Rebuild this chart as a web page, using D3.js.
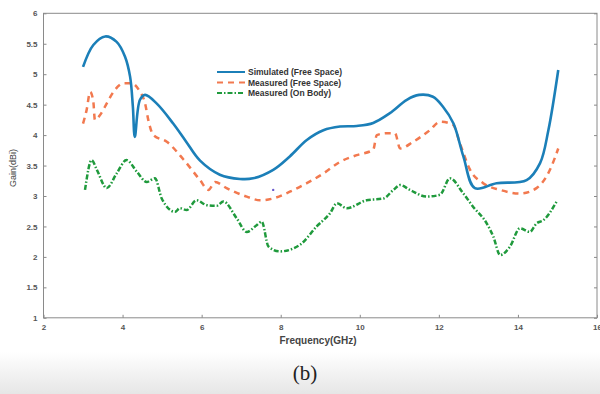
<!DOCTYPE html>
<html>
<head>
<meta charset="utf-8">
<script src="https://cdn.jsdelivr.net/npm/d3@7"></script>
<style>
  body { margin: 0; background: #fff; }
  svg { display: block; font-family: "Liberation Sans", Arial, sans-serif; }
</style>
</head>
<body>
<div id="chart"></div>
<script>
// gain vs frequency, three traces

var simFreq = [3.0, 3.26, 3.56, 3.85, 4.06, 4.19, 4.26, 4.31, 4.44, 4.57, 4.86, 5.28, 5.6, 5.96, 6.46, 6.97, 7.3, 7.81, 8.23, 8.66, 9.08, 9.5, 9.92, 10.34, 10.76, 11.19, 11.5, 11.85, 12.1, 12.37, 12.62, 12.91, 13.46, 14.22, 14.56, 14.77, 15.02];
var simGain = [5.12, 5.48, 5.62, 5.53, 5.29, 4.96, 4.47, 3.97, 4.58, 4.66, 4.52, 4.19, 3.9, 3.58, 3.35, 3.28, 3.29, 3.43, 3.65, 3.92, 4.08, 4.14, 4.15, 4.2, 4.36, 4.58, 4.66, 4.63, 4.47, 4.19, 3.65, 3.13, 3.21, 3.26, 3.54, 4.08, 5.07];

var measFreq = [3.0, 3.09, 3.18, 3.26, 3.3, 3.43, 3.6, 3.77, 4.02, 4.23, 4.44, 4.57, 4.65, 4.78, 5.12, 5.54, 5.96, 6.17, 6.34, 6.63, 7.14, 7.48, 7.81, 8.23, 8.66, 9.08, 9.5, 9.92, 10.34, 10.43, 10.68, 10.89, 11.02, 11.35, 11.77, 12.03, 12.36, 12.53, 12.79, 13.12, 13.55, 14.05, 14.47, 14.81, 15.02];
var measGain = [4.19, 4.41, 4.71, 4.55, 4.25, 4.33, 4.52, 4.71, 4.85, 4.85, 4.71, 4.52, 4.25, 4.0, 3.89, 3.6, 3.26, 3.1, 3.23, 3.13, 2.99, 2.93, 2.96, 3.07, 3.21, 3.37, 3.56, 3.67, 3.76, 4.0, 4.03, 4.03, 3.78, 3.89, 4.08, 4.22, 4.17, 3.87, 3.43, 3.21, 3.1, 3.04, 3.13, 3.43, 3.78];

var bodyFreq = [3.05, 3.22, 3.35, 3.6, 3.85, 4.1, 4.36, 4.61, 4.82, 4.99, 5.33, 5.45, 5.62, 5.87, 6.13, 6.38, 6.55, 6.89, 7.14, 7.39, 7.52, 7.69, 7.98, 8.49, 8.91, 9.25, 9.42, 9.67, 10.17, 10.6, 10.85, 11.02, 11.27, 11.69, 12.03, 12.28, 12.62, 12.87, 13.21, 13.38, 13.55, 13.8, 14.05, 14.3, 14.47, 14.64, 14.98];
var bodyGain = [3.1, 3.59, 3.43, 3.13, 3.37, 3.59, 3.4, 3.23, 3.29, 2.96, 2.74, 2.8, 2.77, 2.93, 2.85, 2.84, 2.91, 2.63, 2.41, 2.52, 2.58, 2.17, 2.09, 2.2, 2.5, 2.72, 2.88, 2.8, 2.93, 2.96, 3.1, 3.18, 3.1, 2.99, 3.02, 3.29, 3.04, 2.82, 2.55, 2.33, 2.03, 2.17, 2.47, 2.41, 2.55, 2.6, 2.91];

var xTicks = [2, 4, 6, 8, 10, 12, 14, 16];
var yTicks = [1, 1.5, 2, 2.5, 3, 3.5, 4, 4.5, 5, 5.5, 6];
var seriesNames = ["Simulated (Free Space)", "Measured (Free Space)", "Measured (On Body)"];

var W = 600, H = 394;
var m = {left: 43.5, right: 597, top: 13.3, bottom: 317.8};

var svg = d3.select("#chart").append("svg")
    .attr("width", W).attr("height", H);

// grey band at the bottom of the page
var defs = svg.append("defs");
var grad = defs.append("linearGradient").attr("id", "band")
    .attr("x1", 0).attr("y1", 0).attr("x2", 0).attr("y2", 1);
grad.append("stop").attr("offset", "0%").attr("stop-color", "#ffffff");
grad.append("stop").attr("offset", "100%").attr("stop-color", "#e6e6e6");
svg.append("rect").attr("x", 0).attr("y", 352).attr("width", W).attr("height", H - 352)
    .attr("fill", "url(#band)");

var x = d3.scaleLinear().domain([2, 16]).range([m.left, m.right]);
var y = d3.scaleLinear().domain([1, 6]).range([m.bottom, m.top]);

var axisCol = "#8a8a8a", textCol = "#555";

// box
svg.append("rect")
    .attr("x", m.left).attr("y", m.top)
    .attr("width", m.right - m.left).attr("height", m.bottom - m.top)
    .attr("fill", "none").attr("stroke", axisCol).attr("stroke-width", 1);

var xAxis = svg.append("g").attr("transform", "translate(0," + m.bottom + ")")
    .call(d3.axisBottom(x).tickValues(xTicks).tickSize(-3).tickPadding(7).tickFormat(d3.format("d")));
var yAxis = svg.append("g").attr("transform", "translate(" + m.left + ",0)")
    .call(d3.axisLeft(y).tickValues(yTicks).tickSize(-3).tickPadding(6).tickFormat(d3.format("")));
var yAxisR = svg.append("g").attr("transform", "translate(" + m.right + ",0)")
    .call(d3.axisRight(y).tickValues(yTicks).tickSize(-3).tickFormat(""));
[xAxis, yAxis, yAxisR].forEach(function(a){
    a.select(".domain").remove();
    a.selectAll("line").attr("stroke", axisCol);
    a.selectAll("text").attr("fill", textCol).attr("font-size", 8).attr("font-weight", "bold");
});

svg.append("text").attr("x", 318).attr("y", 344)
    .attr("text-anchor", "middle").attr("font-size", 10).attr("font-weight", "bold")
    .attr("fill", "#444").text("Frequency(GHz)");
svg.append("text").attr("transform", "translate(16,168) rotate(-90)")
    .attr("text-anchor", "middle").attr("font-size", 9)
    .attr("fill", "#444").text("Gain(dBi)");
svg.append("text").attr("x", 305).attr("y", 380)
    .attr("text-anchor", "middle").attr("font-size", 21)
    .attr("font-family", "'Liberation Serif', 'Times New Roman', serif")
    .attr("fill", "#222").text("(b)");

function pts(fx, gy){ return fx.map(function(f, i){ return [f, gy[i]]; }); }

var smooth = d3.line().x(function(d){ return x(d[0]); }).y(function(d){ return y(d[1]); })
    .curve(d3.curveCatmullRom.alpha(0.5));
var plain = d3.line().x(function(d){ return x(d[0]); }).y(function(d){ return y(d[1]); })
    .curve(d3.curveMonotoneX);

var styles = [
    {col: "#1b7fb8", dash: null, w: 2.6},
    {col: "#f2794f", dash: "6,5", w: 2.5},
    {col: "#1f9a3c", dash: "5,2,1.5,2", w: 2.5}
];

svg.append("path").datum(pts(bodyFreq, bodyGain)).attr("d", plain)
    .attr("fill", "none").attr("stroke", styles[2].col).attr("stroke-width", styles[2].w)
    .attr("stroke-dasharray", styles[2].dash);
svg.append("path").datum(pts(measFreq, measGain)).attr("d", plain)
    .attr("fill", "none").attr("stroke", styles[1].col).attr("stroke-width", styles[1].w)
    .attr("stroke-dasharray", styles[1].dash);
svg.append("path").datum(pts(simFreq, simGain)).attr("d", smooth)
    .attr("fill", "none").attr("stroke", styles[0].col).attr("stroke-width", styles[0].w);

// stray marker near 7.8 GHz
svg.append("circle").attr("cx", x(7.81)).attr("cy", y(3.1)).attr("r", 1.2).attr("fill", "#6a5acd");

// legend
var leg = svg.append("g");
seriesNames.forEach(function(name, i){
    var ly = 72 + i * 10.5;
    leg.append("line").attr("x1", 217).attr("x2", 245).attr("y1", ly).attr("y2", ly)
        .attr("stroke", styles[i].col).attr("stroke-width", 2)
        .attr("stroke-dasharray", styles[i].dash);
    leg.append("text").attr("x", 248).attr("y", ly + 3)
        .attr("font-size", 8.5).attr("font-weight", "bold").attr("fill", "#333").text(name);
});
</script>
</body>
</html>
